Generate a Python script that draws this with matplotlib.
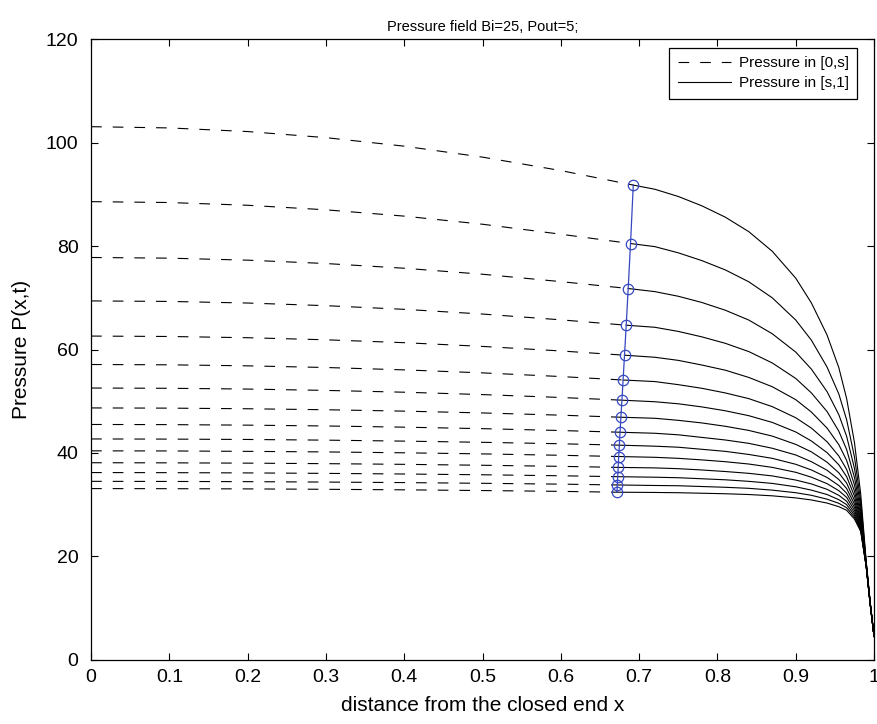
import matplotlib
matplotlib.use('Agg')
import matplotlib.pyplot as plt

plt.rcParams['font.family'] = ['Liberation Sans', 'DejaVu Sans']
plt.rcParams['lines.scale_dashes'] = False

# junction points (free boundary s, pressure at s)
s_pos = [0.6925, 0.6890, 0.6860, 0.6835, 0.6813, 0.6795, 0.6780, 0.6767,
         0.6756, 0.6747, 0.6739, 0.6732, 0.6726, 0.6721, 0.6717]
p_s = [91.8, 80.5, 71.8, 64.7, 58.9, 54.1, 50.2, 46.9,
       44.0, 41.5, 39.3, 37.2, 35.4, 33.8, 32.4]

# pressure in [0,s] read at x = 0, 0.1, ..., 0.6 (then s)
x_left = [0.0, 0.1, 0.2, 0.3, 0.4, 0.5, 0.6]
p_left = [
    [103.1, 102.86, 102.16, 100.98, 99.33, 97.21, 94.61],
    [88.6, 88.43, 87.90, 87.02, 85.80, 84.23, 82.30],
    [77.8, 77.67, 77.28, 76.63, 75.72, 74.56, 73.13],
    [69.4, 69.30, 68.99, 68.48, 67.77, 66.86, 65.74],
    [62.6, 62.52, 62.28, 61.88, 61.32, 60.60, 59.72],
    [57.1, 57.04, 56.84, 56.52, 56.06, 55.48, 54.77],
    [52.55, 52.50, 52.35, 52.09, 51.74, 51.28, 50.72],
    [48.7, 48.66, 48.54, 48.35, 48.08, 47.73, 47.30],
    [45.5, 45.47, 45.37, 45.21, 44.98, 44.69, 44.33],
    [42.7, 42.67, 42.60, 42.47, 42.28, 42.05, 41.77],
    [40.4, 40.38, 40.30, 40.19, 40.02, 39.81, 39.54],
    [38.1, 38.08, 38.02, 37.92, 37.79, 37.61, 37.40],
    [36.2, 36.18, 36.13, 36.04, 35.92, 35.77, 35.58],
    [34.5, 34.48, 34.44, 34.36, 34.26, 34.12, 33.96],
    [33.1, 33.08, 33.04, 32.96, 32.86, 32.72, 32.56],
]

# pressure in [s,1] read at these x (after s)
x_right = [0.72, 0.75, 0.78, 0.81, 0.84, 0.87, 0.9, 0.92, 0.94, 0.955,
           0.965, 0.975, 0.983, 0.99, 0.995, 1.0]
p_right = [
    [91.0, 89.6, 87.8, 85.6, 82.8, 79.0, 73.8, 69.0, 62.8, 56.5, 50.5, 42.0, 32.0, 19.0, 11.3, 4.5],
    [79.9, 78.7, 77.2, 75.4, 73.1, 70.0, 65.7, 61.8, 56.6, 51.4, 46.4, 39.2, 30.6, 18.8, 11.2, 4.5],
    [71.2, 70.3, 69.1, 67.6, 65.7, 63.05, 59.5, 56.2, 51.85, 47.4, 43.2, 37.0, 29.6, 18.65, 11.13, 4.5],
    [64.3, 63.5, 62.45, 61.2, 59.6, 57.4, 54.4, 51.6, 48.0, 44.2, 40.65, 35.25, 28.7, 18.55, 11.07, 4.5],
    [58.5, 57.9, 57.0, 56.0, 54.6, 52.8, 50.3, 47.9, 44.8, 41.6, 38.55, 33.8, 28.0, 18.45, 11.02, 4.5],
    [53.8, 53.2, 52.5, 51.6, 50.5, 48.95, 46.8, 44.8, 42.15, 39.4, 36.8, 32.6, 27.45, 18.35, 10.98, 4.5],
    [49.9, 49.5, 48.9, 48.15, 47.2, 45.9, 44.05, 42.3, 40.05, 37.7, 35.4, 31.65, 26.95, 18.3, 10.95, 4.5],
    [46.7, 46.3, 45.8, 45.15, 44.35, 43.25, 41.65, 40.2, 38.2, 36.15, 34.15, 30.8, 26.55, 18.25, 10.92, 4.5],
    [43.8, 43.5, 43.0, 42.5, 41.85, 40.9, 39.6, 38.3, 36.65, 34.85, 33.1, 30.1, 26.2, 18.2, 10.9, 4.5],
    [41.3, 41.1, 40.7, 40.3, 39.7, 38.95, 37.8, 36.7, 35.25, 33.7, 32.2, 29.45, 25.9, 18.15, 10.88, 4.5],
    [39.15, 38.95, 38.65, 38.3, 37.85, 37.2, 36.25, 35.3, 34.05, 32.7, 31.4, 28.9, 25.65, 18.1, 10.86, 4.5],
    [37.1, 36.95, 36.7, 36.4, 36.05, 35.55, 34.75, 34.0, 32.95, 31.8, 30.65, 28.4, 25.4, 18.08, 10.84, 4.5],
    [35.3, 35.2, 35.0, 34.8, 34.5, 34.1, 33.45, 32.8, 31.95, 30.95, 30.0, 27.95, 25.15, 18.05, 10.83, 4.5],
    [33.7, 33.65, 33.5, 33.35, 33.15, 32.8, 32.3, 31.8, 31.05, 30.25, 29.4, 27.55, 24.95, 18.02, 10.81, 4.5],
    [32.35, 32.3, 32.2, 32.1, 31.95, 31.7, 31.3, 30.9, 30.3, 29.6, 28.9, 27.2, 24.8, 18.0, 10.8, 4.5],
]

fig = plt.figure(figsize=(8.78, 7.24), dpi=100)
ax = fig.add_axes([0.1037, 0.0888, 0.8918, 0.8569])

for i in range(len(s_pos)):
    xl = x_left + [s_pos[i]]
    yl = p_left[i] + [p_s[i]]
    xr = [s_pos[i]] + x_right
    yr = [p_s[i]] + p_right[i]
    ax.plot(xl, yl, color='black', lw=0.8, dashes=(7.7, 7.9),
            label='Pressure in [0,s]' if i == 0 else None)
    ax.plot(xr, yr, color='black', lw=0.8,
            label='Pressure in [s,1]' if i == 0 else None)

ax.plot(s_pos, p_s, color='#3547c0', lw=0.9, marker='o', ms=7.5,
        mfc='none', mec='#3547c0', mew=0.9)

ax.set_xlim(0, 1)
ax.set_ylim(0, 120)
ax.set_xticks([0, 0.1, 0.2, 0.3, 0.4, 0.5, 0.6, 0.7, 0.8, 0.9, 1])
ax.set_xticklabels(['0', '0.1', '0.2', '0.3', '0.4', '0.5', '0.6', '0.7', '0.8', '0.9', '1'])
ax.set_yticks([0, 20, 40, 60, 80, 100, 120])
ax.tick_params(direction='in', top=True, right=True, length=5, width=0.8,
               labelsize=14)
ax.tick_params(axis='y', pad=9)
ax.tick_params(axis='x', pad=7)
for sp in ax.spines.values():
    sp.set_linewidth(0.9)

ax.set_title('Pressure field Bi=25, Pout=5;', fontsize=10.5, pad=6)
ax.set_xlabel('distance from the closed end x', fontsize=15, labelpad=7)
ax.set_ylabel('Pressure P(x,t)', fontsize=15, labelpad=11)

leg = ax.legend(loc='upper right', bbox_to_anchor=(0.9785, 0.9866),
                borderaxespad=0, fontsize=11, handlelength=3.5,
                handletextpad=0.5, fancybox=False, framealpha=1,
                edgecolor='black', borderpad=0.55, labelspacing=0.4)
leg.get_frame().set_linewidth(0.9)

plt.savefig('out.png', dpi=100)
plt.close()
